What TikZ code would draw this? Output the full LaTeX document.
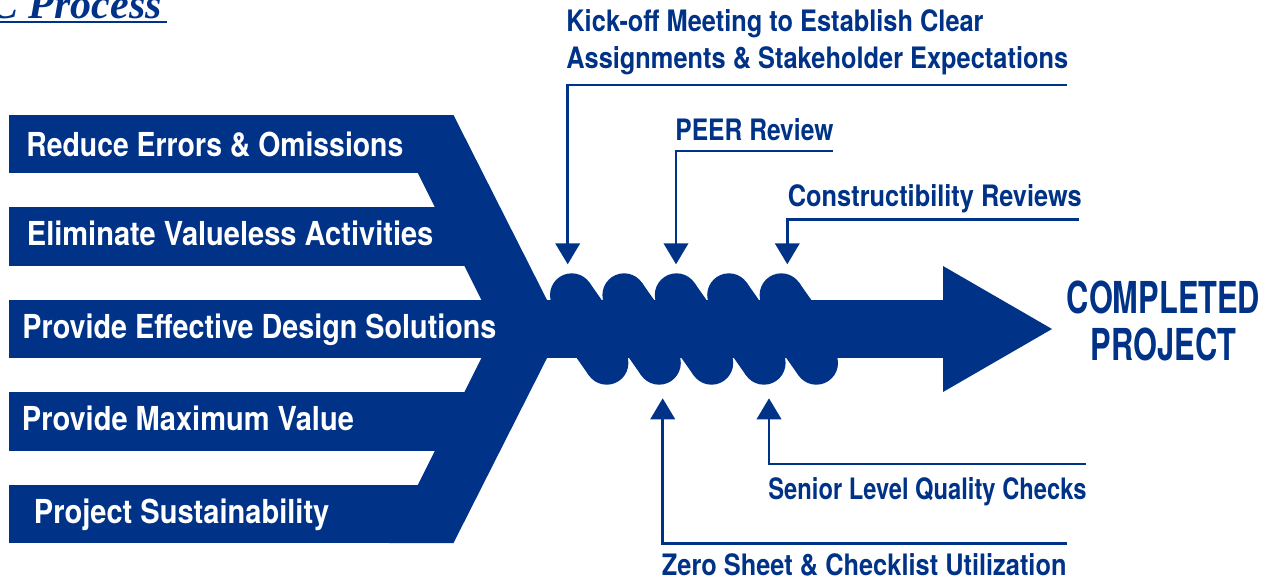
\documentclass[tikz,border=0pt]{standalone}
\usepackage{graphicx}
\usepackage{fontspec}
\setmainfont{TeX Gyre Heros}[FakeStretch=0.86]
\newfontfamily\bandfont{TeX Gyre Heros}[FakeStretch=0.88]
\newfontfamily\goalfont{TeX Gyre Heros}[FakeStretch=0.70]
\newfontfamily\titlefont{Liberation Serif}
\usetikzlibrary{arrows.meta}
\definecolor{navy}{HTML}{003387}

\begin{document}
\begin{tikzpicture}[x=0.5pt, y=-0.5pt,
  band/.style={fill=navy},
  bandtext/.style={anchor=base west, inner sep=0pt, text=white,
    font=\bandfont\fontsize{16.5}{20}\selectfont\bfseries},
  steptext/.style={anchor=base west, inner sep=0pt, text=navy, align=left,
    font=\fontsize{14.75}{18.3}\selectfont\bfseries},
  callout/.style={draw=navy, line width=1.3pt,
    -{Triangle[width=12.2pt,length=10.5pt]}}]

\useasboundingbox (0,0) rectangle (1273,579);
\clip (0,0) rectangle (1273,579);

\def\coilr{21.7}
\def\coilgap{52.4}

%--- Title ---
\node[anchor=base west, inner sep=0pt, text=navy,
  font=\titlefont\fontsize{21}{24}\selectfont\bfseries\itshape] (title) at (-10,18) {C Process};
\draw[navy, line width=1pt] (0,22) -- (167,22);

%--- Goal bands ---
\foreach \yt/\yb/\xr in {115/173/430, 207/266/480, 392/451/480, 485/543/430}{
  \fill[band] (9,\yt) rectangle (\xr,\yb);
}
\fill[band] (9,300) rectangle (945,358);

%--- Chevron ---
\fill[band] (388.7,115) -- (453.5,115) -- (547,300) -- (547,358)
  -- (453.5,543) -- (388.7,543) -- (496,329) -- cycle;

%--- Arrow head ---
\fill[band] (943,266) -- (1052,329) -- (943,392) -- cycle;

%--- Coil ---
\foreach \i in {0,...,4}{
  \pgfmathsetmacro{\cx}{571.7+\coilgap*\i}
  \pgfmathsetmacro{\bx}{606.7+\coilgap*\i}
  \fill[band] (\cx,295) circle[radius=\coilr];
  \fill[band] (\cx,295) -- ++(17.8,-12.4) -- (\cx+30,300) -- (\cx,300) -- cycle;
  \fill[band] (\bx,363) circle[radius=\coilr];
  \fill[band] (\bx,363) -- ++(-17.8,12.4) -- (\bx-30,358) -- (\bx,358) -- cycle;
}

%--- Band labels ---
\node[bandtext] (reduce)  at (26,156)   {\scalebox{0.977}[1]{Reduce Errors \& Omissions}};
\node[bandtext] (elim)    at (26.5,245) {Eliminate Valueless Activities};
\node[bandtext] (design)  at (22,338)   {\scalebox{0.99}[1]{Provide Effective Design Solutions}};
\node[bandtext] (value)   at (21.5,430) {Provide Maximum Value};
\node[bandtext] (sustain) at (33.5,523) {Project Sustainability};

%--- Step labels (base = last line) ---
\node[steptext] (kick)   at (566,68.3)  {Kick-off Meeting to Establish Clear\\Assignments \& Stakeholder Expectations};
\node[steptext] (peer)   at (675,140)   {\scalebox{0.97}[1]{PEER Review}};
\node[steptext] (constr) at (787.5,206.7) {Constructibility Reviews};
\node[steptext] (senior) at (768,499.3) {\scalebox{0.935}[1]{Senior Level Quality Checks}};
\node[steptext] (zero)   at (661.5,575) {Zero Sheet \& Checklist Utilization};

\node[inner sep=0pt, text=navy, align=center, anchor=base,
  font=\goalfont\fontsize{22}{23.5}\selectfont\bfseries] (goal) at (1163.5,360) {COMPLETED\\PROJECT};

%--- Callouts ---
\coordinate (kick-r)   at (1067,85);
\coordinate (kick-t)   at (567.7,264.3);
\coordinate (peer-r)   at (832.7,151);
\coordinate (peer-t)   at (676,264.3);
\coordinate (constr-r) at (1079.3,219.3);
\coordinate (constr-t) at (787.3,264.3);
\coordinate (senior-r) at (1086,464);
\coordinate (senior-t) at (769,398.3);
\coordinate (zero-r)   at (1066.7,543.3);
\coordinate (zero-t)   at (662.7,398.3);
\foreach \s in {kick,peer,constr,senior,zero}{
  \draw[callout] (\s-r) -| (\s-t);
}

\end{tikzpicture}
\end{document}
